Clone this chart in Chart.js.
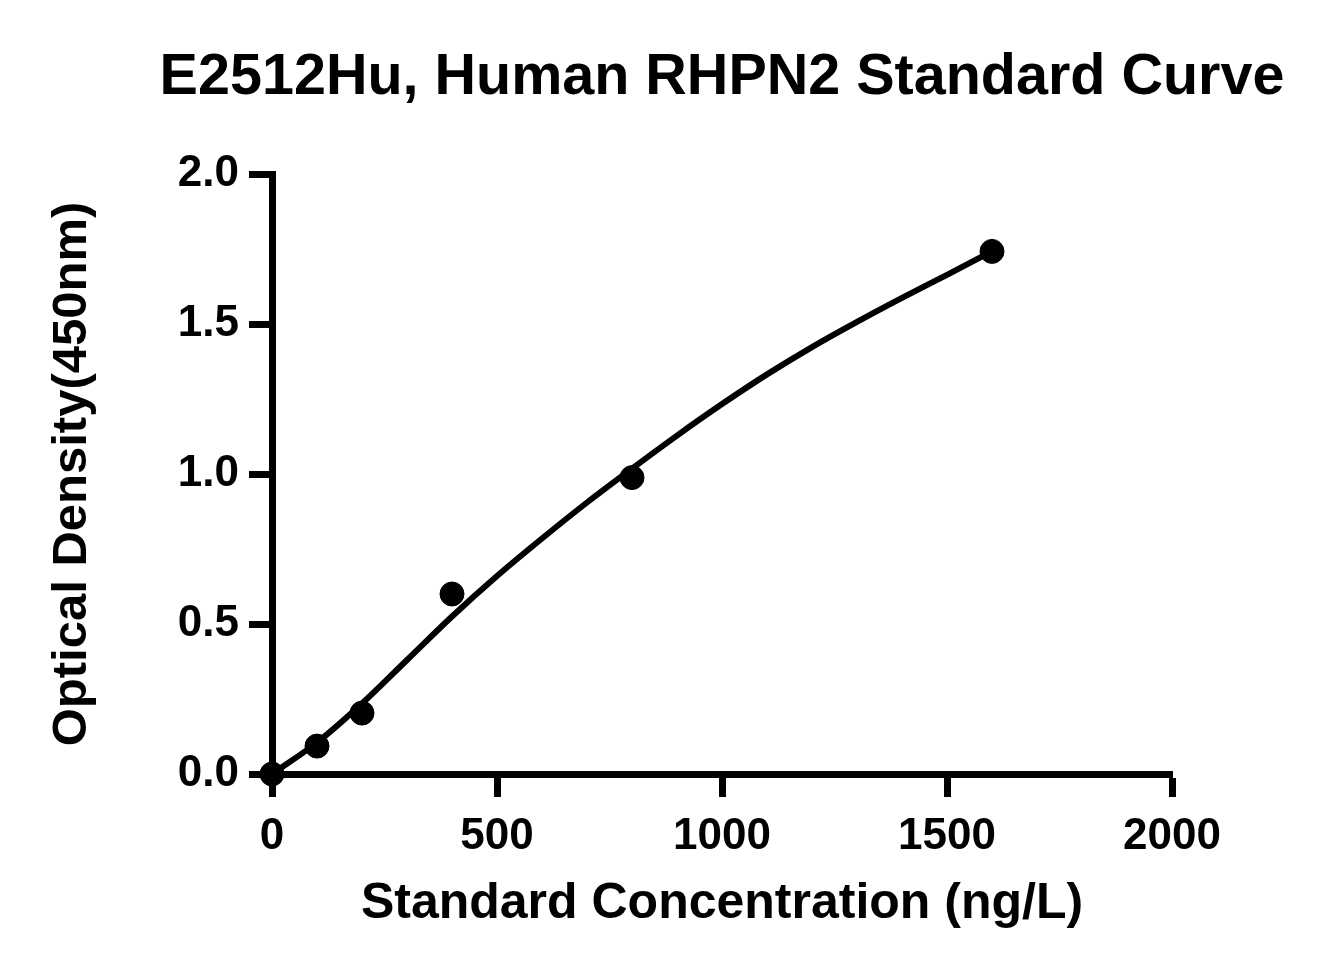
<!DOCTYPE html>
<html>
<head>
<meta charset="utf-8">
<script src="https://cdn.jsdelivr.net/npm/chart.js@4.4.1/dist/chart.umd.min.js"></script>
<style>
  html, body { margin: 0; padding: 0; background: #fff; }
  #wrap { width: 1329px; height: 975px; }
</style>
</head>
<body>
<div id="wrap"><canvas id="c" width="1329" height="975"></canvas></div>
<script>
// standard points
const stdConc = [0, 100, 200, 400, 800, 1600];
const stdOD = [0.0, 0.093, 0.203, 0.600, 0.988, 1.742];

// fitted curve
const fitConc = [0, 100, 200, 300, 400, 500, 600, 700, 800, 900, 1000, 1100, 1200, 1300, 1400, 1500, 1600];
const fitOD = [0.0, 0.105, 0.235, 0.38, 0.525, 0.66, 0.785, 0.905, 1.018, 1.128, 1.233, 1.332, 1.423, 1.507, 1.587, 1.664, 1.742];

const xTicks = [0, 500, 1000, 1500, 2000];
const yTicks = [0, 0.5, 1.0, 1.5, 2.0];

const FONT = "Arial, 'Liberation Sans', sans-serif";

const titlePlugin = {
  id: 'topTitle',
  afterDraw(chart) {
    const ctx = chart.ctx, a = chart.chartArea;
    ctx.save();
    ctx.font = 'bold 57.5px ' + FONT;
    ctx.fillStyle = '#000';
    ctx.textAlign = 'center';
    ctx.textBaseline = 'middle';
    ctx.fillText('E2512Hu, Human RHPN2 Standard Curve', (a.left + a.right) / 2, 78);
    ctx.restore();
  }
};

new Chart(document.getElementById('c'), {
  type: 'scatter',
  data: {
    datasets: [{
      label: 'fit',
      data: fitConc.map((x, i) => ({x: x, y: fitOD[i]})),
      showLine: true,
      borderColor: '#000',
      borderWidth: 6,
      pointRadius: 0,
      cubicInterpolationMode: 'monotone',
      clip: false
    }, {
      label: 'standard',
      data: stdConc.map((x, i) => ({x: x, y: stdOD[i]})),
      backgroundColor: '#000',
      borderColor: '#000',
      pointRadius: 12,
      clip: false
    }]
  },
  options: {
    responsive: false,
    animation: false,
    layout: { padding: { left: 39, top: 174, right: 157, bottom: 37 } },
    plugins: { legend: { display: false }, tooltip: { enabled: false } },
    scales: {
      x: {
        type: 'linear', min: 0, max: 2000,
        afterFit: s => { s.height = 164; },
        afterBuildTicks: s => { s.ticks = xTicks.map(v => ({value: v})); },
        border: { display: true, color: '#000', width: 7 },
        grid: { drawOnChartArea: false, drawTicks: true, tickLength: 23, tickWidth: 7, color: '#000' },
        ticks: { color: '#000', padding: 13, maxRotation: 0, font: { family: FONT, size: 44, weight: 'bold' },
                 callback: v => String(v) },
        title: { display: true, text: 'Standard Concentration (ng/L)', color: '#000',
                 font: { family: FONT, size: 50, weight: 'bold' } }
      },
      y: {
        type: 'linear', min: 0, max: 2,
        afterFit: s => { s.width = 233; },
        afterBuildTicks: s => { s.ticks = yTicks.map(v => ({value: v})); },
        border: { display: true, color: '#000', width: 7 },
        grid: { drawOnChartArea: false, drawTicks: true, tickLength: 23, tickWidth: 7, color: '#000' },
        ticks: { color: '#000', padding: 10, font: { family: FONT, size: 44, weight: 'bold' },
                 callback: v => Number(v).toFixed(1) },
        title: { display: true, text: 'Optical Density(450nm)', color: '#000',
                 font: { family: FONT, size: 49, weight: 'bold' } }
      }
    }
  },
  plugins: [titlePlugin]
});
</script>
</body>
</html>
